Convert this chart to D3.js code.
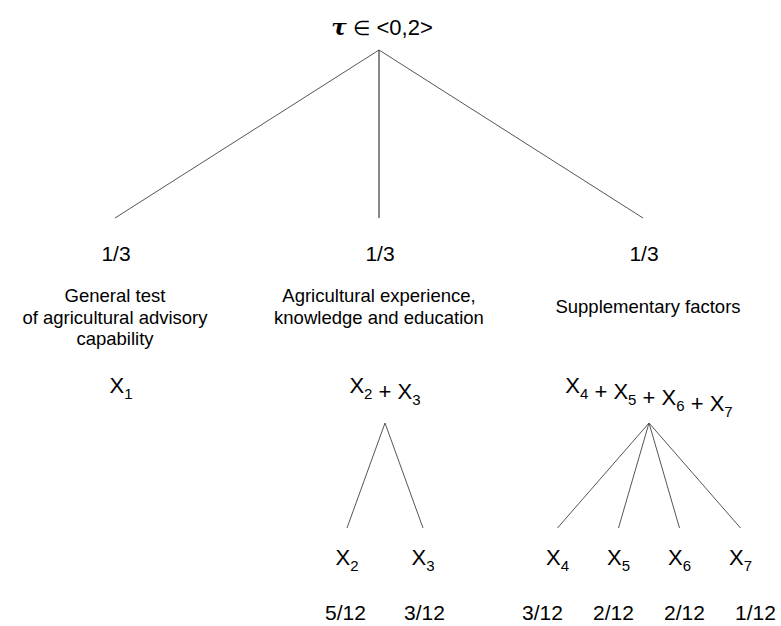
<!DOCTYPE html>
<html>
<head>
<meta charset="utf-8">
<script src="https://cdn.jsdelivr.net/npm/d3@7"></script>
<style>
  body { margin: 0; background: #fff; }
  text { font-family: "Liberation Sans", Arial, sans-serif; fill: #000; }
</style>
</head>
<body>
<script>
// data of the weighting tree
var rootSymbol = "τ";
var rootRange = "<0,2>";
var groupWeights = ["1/3", "1/3", "1/3"];
var groupNames = [
    ["General test", "of agricultural advisory", "capability"],
    ["Agricultural experience,", "knowledge and education"],
    ["Supplementary factors"]
];
var groupTerms = [[1], [2, 3], [4, 5, 6, 7]];
var termWeights = [[], ["5/12", "3/12"], ["3/12", "2/12", "2/12", "1/12"]];

// canvas
var width = 781, height = 626;

var svg = d3.select("body").append("svg")
    .attr("width", width)
    .attr("height", height);

// layout of the rows (y) and the spread of each level (x)
var row = {
    rootLabel: 35, root: 50, level1: 218, weight: 261,
    nameTop: 302, nameStep: 21.5, term: 393,
    apex: 423, leaf: 528, leafLabel: 565, leafWeight: 620
};
var termShift = 6;
var leafStep = [0, 76, 61];
var leafWeightStep = [0, 79, 71];

var xGroup = d3.scalePoint().domain(d3.range(groupNames.length)).range([115, 643]);
var xRoot = d3.mean(xGroup.range());

// build hierarchy from the arrays
var rootData = {
    name: rootSymbol,
    children: groupNames.map(function (n, i) {
        return {
            index: i, lines: n, weight: groupWeights[i], terms: groupTerms[i],
            children: groupTerms[i].length > 1 ? groupTerms[i].map(function (t, j) {
                return { term: t, weight: termWeights[i][j], j: j };
            }) : null
        };
    })
};
var root = d3.hierarchy(rootData);

// place the nodes with the scales
root.x = xRoot; root.y = row.root;
root.children.forEach(function (g) {
    var i = g.data.index;
    g.x = xGroup(i);
    g.y = row.level1;
    g.apex = xGroup(i) + termShift;
    if (g.children) {
        var n = g.children.length;
        var half = leafStep[i] * (n - 1) / 2;
        var halfW = leafWeightStep[i] * (n - 1) / 2;
        var xLeaf = d3.scalePoint().domain(g.data.terms).range([g.apex - half, g.apex + half]);
        var xLeafW = d3.scalePoint().domain(g.data.terms).range([g.apex - halfW, g.apex + halfW]);
        g.children.forEach(function (c) {
            c.x = xLeaf(c.data.term);
            c.wx = xLeafW(c.data.term);
            c.y = row.leaf;
        });
    }
});

// root label
var rl = svg.append("text")
    .attr("x", xRoot + 3)
    .attr("y", row.rootLabel)
    .attr("text-anchor", "middle")
    .style("font-size", "22px");
rl.append("tspan")
    .style("font-family", "'DejaVu Serif', serif")
    .style("font-style", "italic")
    .style("font-weight", "bold")
    .style("font-size", "23px")
    .text(rootSymbol);
rl.append("tspan").text(" \u2208  ").style("font-family", "'DejaVu Sans', sans-serif").style("font-size", "20px").style("font-weight", "200");
rl.append("tspan").text(rootRange);

// first level links
svg.selectAll(".link1")
    .data(root.children)
    .enter()
    .append("line")
    .attr("class", "link1")
    .attr("x1", root.x)
    .attr("y1", root.y)
    .attr("x2", function (d) { return d.x; })
    .attr("y2", function (d) { return d.y; })
    .attr("stroke", function (d) { return d.x === root.x ? "#111" : "#555"; })
    .attr("stroke-width", 1);

// weights of groups
svg.selectAll(".gweight")
    .data(root.children)
    .enter()
    .append("text")
    .attr("class", "gweight")
    .attr("x", function (d) { return d.x + 1; })
    .attr("y", row.weight)
    .attr("text-anchor", "middle")
    .style("font-size", "21px")
    .text(function (d) { return d.data.weight; });

// group names
svg.selectAll(".gname")
    .data(root.children)
    .enter()
    .append("text")
    .attr("class", "gname")
    .attr("text-anchor", "middle")
    .style("font-size", "18.5px")
    .each(function (d) {
        var n = d.data.lines.length;
        var top = row.nameTop + (n === 1 ? row.nameStep / 2 : 0);
        d3.select(this).selectAll("tspan")
            .data(d.data.lines)
            .enter()
            .append("tspan")
            .attr("x", d.x + (d.data.index === 2 ? 5 : 0))
            .attr("y", function (l, k) { return top + k * row.nameStep; })
            .text(function (l) { return l; });
    });

// helper: write "X" with a subscript
function addTerm(sel, t) {
    sel.append("tspan").text("X");
    sel.append("tspan").attr("dy", 6).style("font-size", "15px").text(t);
    sel.append("tspan").attr("dy", -6).text("");
}

// sum of terms for each group
svg.selectAll(".gterms")
    .data(root.children)
    .enter()
    .append("text")
    .attr("class", "gterms")
    .attr("x", function (d) { return d.apex; })
    .attr("y", row.term)
    .attr("text-anchor", "middle")
    .style("font-size", "22px")
    .each(function (d) {
        var sel = d3.select(this);
        d.data.terms.forEach(function (t, k) {
            if (k > 0) sel.append("tspan").text(" + ");
            addTerm(sel, t);
        });
    });

// second level links
var groupsWithLeaves = root.children.filter(function (g) { return g.children; });
var leaves = [];
groupsWithLeaves.forEach(function (g) {
    g.children.forEach(function (c) { c.apex = g.apex; leaves.push(c); });
});

svg.selectAll(".link2")
    .data(leaves)
    .enter()
    .append("line")
    .attr("class", "link2")
    .attr("x1", function (d) { return d.apex; })
    .attr("y1", row.apex)
    .attr("x2", function (d) { return d.x; })
    .attr("y2", row.leaf)
    .attr("stroke", "#555")
    .attr("stroke-width", 1);

// leaf labels
svg.selectAll(".lterm")
    .data(leaves)
    .enter()
    .append("text")
    .attr("class", "lterm")
    .attr("x", function (d) { return d.x; })
    .attr("y", row.leafLabel)
    .attr("text-anchor", "middle")
    .style("font-size", "22px")
    .each(function (d) { addTerm(d3.select(this), d.data.term); });

// leaf weights
svg.selectAll(".lweight")
    .data(leaves)
    .enter()
    .append("text")
    .attr("class", "lweight")
    .attr("x", function (d) { return d.wx; })
    .attr("y", row.leafWeight)
    .attr("text-anchor", "middle")
    .style("font-size", "21px")
    .text(function (d) { return d.data.weight; });
</script>
</body>
</html>
